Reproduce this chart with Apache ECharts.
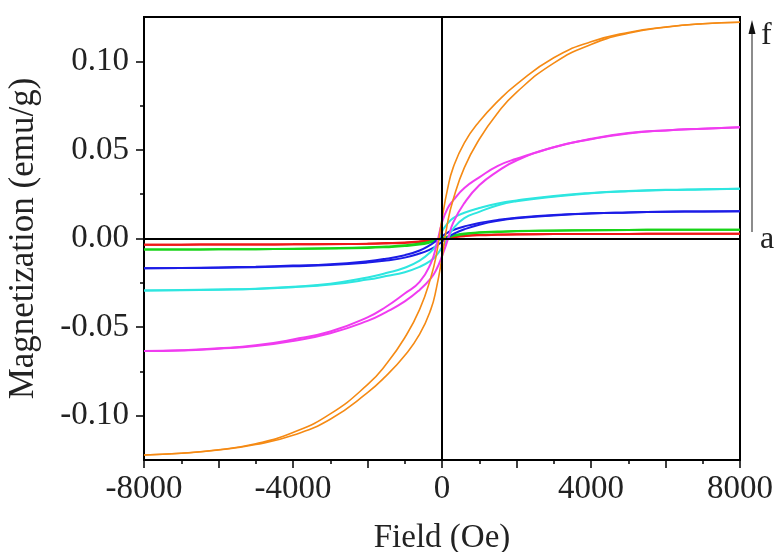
<!DOCTYPE html>
<html>
<head>
<meta charset="utf-8">
<script src="https://cdn.jsdelivr.net/npm/echarts@6.0.0/dist/echarts.min.js"></script>
<style>
    html,body{margin:0;padding:0;background:#fff;}
    #main{width:776px;height:552px;}
</style>
</head>
<body>
<div id="main"></div>
<script>
// field values (Oe), shared by every branch
var field = [-8000,-7000,-6000,-5000,-4000,-3000,-2000,-1500,-1000,-600,-300,-150,0,150,300,600,1000,1500,2000,3000,4000,5000,6000,7000,8000];

// upper = branch coming down from +8000, lower = branch going up from -8000
var aUpper = [-0.0035,-0.0035,-0.0034,-0.0034,-0.0033,-0.0031,-0.0029,-0.0026,-0.0022,-0.0016,-0.0009,-0.0004,0.0002,0.0006,0.0010,0.0016,0.0020,0.0022,0.0024,0.0025,0.0026,0.0026,0.0027,0.0027,0.0027];
var aLower = [-0.0035,-0.0035,-0.0034,-0.0034,-0.0033,-0.0032,-0.0030,-0.0028,-0.0025,-0.0020,-0.0013,-0.0008,-0.0002,0.0003,0.0007,0.0013,0.0018,0.0021,0.0023,0.0025,0.0026,0.0026,0.0027,0.0027,0.0027];
var bUpper = [-0.0062,-0.0062,-0.0061,-0.0060,-0.0058,-0.0055,-0.0050,-0.0045,-0.0038,-0.0028,-0.0016,-0.0007,0.0003,0.0011,0.0018,0.0028,0.0035,0.0039,0.0042,0.0045,0.0047,0.0048,0.0049,0.0049,0.0050];
var bLower = [-0.0062,-0.0062,-0.0061,-0.0060,-0.0059,-0.0057,-0.0053,-0.0049,-0.0043,-0.0034,-0.0022,-0.0013,-0.0003,0.0006,0.0014,0.0024,0.0032,0.0037,0.0041,0.0044,0.0046,0.0048,0.0049,0.0049,0.0050];
var cUpper = [-0.0168,-0.0166,-0.0163,-0.0159,-0.0153,-0.0145,-0.0128,-0.0114,-0.0094,-0.0068,-0.0035,-0.0012,0.0012,0.0033,0.0048,0.0068,0.0088,0.0105,0.0117,0.0133,0.0142,0.0147,0.0151,0.0153,0.0154];
var cLower = [-0.0168,-0.0167,-0.0165,-0.0162,-0.0157,-0.0150,-0.0136,-0.0124,-0.0108,-0.0085,-0.0060,-0.0042,-0.0018,0.0005,0.0025,0.0052,0.0078,0.0100,0.0114,0.0130,0.0141,0.0147,0.0151,0.0153,0.0154];
var dUpper = [-0.0293,-0.0291,-0.0288,-0.0283,-0.0272,-0.0255,-0.0220,-0.0195,-0.0165,-0.0125,-0.0075,-0.0035,0.0040,0.0085,0.0115,0.0145,0.0172,0.0198,0.0215,0.0240,0.0257,0.0268,0.0275,0.0278,0.0281];
var dLower = [-0.0293,-0.0292,-0.0289,-0.0285,-0.0275,-0.0260,-0.0232,-0.0212,-0.0190,-0.0160,-0.0125,-0.0095,-0.0050,-0.0005,0.0055,0.0115,0.0150,0.0188,0.0210,0.0235,0.0255,0.0266,0.0273,0.0277,0.0281];
var eUpper = [-0.0635,-0.0630,-0.0620,-0.0603,-0.0570,-0.0525,-0.0445,-0.0385,-0.0310,-0.0245,-0.0140,-0.0040,0.0090,0.0170,0.0215,0.0285,0.0345,0.0410,0.0450,0.0515,0.0563,0.0595,0.0610,0.0620,0.0628];
var eLower = [-0.0635,-0.0632,-0.0622,-0.0607,-0.0578,-0.0535,-0.0465,-0.0415,-0.0355,-0.0290,-0.0225,-0.0175,-0.0100,-0.0010,0.0090,0.0200,0.0300,0.0380,0.0440,0.0515,0.0560,0.0593,0.0610,0.0620,0.0628];
var fUpper = [-0.1222,-0.1212,-0.1192,-0.1158,-0.1095,-0.0990,-0.0825,-0.0710,-0.0560,-0.0400,-0.0220,-0.0090,0.0110,0.0280,0.0400,0.0540,0.0660,0.0775,0.0870,0.1020,0.1110,0.1163,0.1194,0.1212,0.1220];
var fLower = [-0.1222,-0.1212,-0.1194,-0.1163,-0.1110,-0.1020,-0.0870,-0.0775,-0.0660,-0.0540,-0.0400,-0.0280,-0.0110,0.0090,0.0220,0.0400,0.0560,0.0710,0.0825,0.0990,0.1095,0.1158,0.1192,0.1212,0.1220];

var xLabels = [-8000,-4000,0,4000,8000];
var yLabels = [-0.10,-0.05,0.00,0.05,0.10];
var yMinor = [-0.075,-0.025,0.025,0.075];

var samples = [
    {name:'a', color:'#f01818', upper:aUpper, lower:aLower},
    {name:'b', color:'#18d418', upper:bUpper, lower:bLower},
    {name:'c', color:'#1c1ce6', upper:cUpper, lower:cLower},
    {name:'d', color:'#2ee6e0', upper:dUpper, lower:dLower},
    {name:'e', color:'#f03cf0', upper:eUpper, lower:eLower},
    {name:'f', color:'#f58a14', upper:fUpper, lower:fLower}
];

function pairs(ys){
    var out = [];
    for (var i = 0; i < field.length; i++) out.push([field[i], ys[i]]);
    return out;
}

var series = [];
samples.forEach(function(s){
    [s.upper, s.lower].forEach(function(ys){
        series.push({
            name: s.name,
            type: 'line',
            data: pairs(ys),
            showSymbol: false,
            smooth: 0.5,
            lineStyle: {color: s.color, width: s.name == 'f' ? 1.6 : 2},
            silent: true
        });
    });
});
// zero lines through the origin
series.push({
    type: 'line',
    data: [],
    silent: true,
    markLine: {
        symbol: 'none',
        silent: true,
        label: {show: false},
        lineStyle: {color: '#000', type: 'solid', width: 2},
        data: [{yAxis: 0}, {xAxis: 0}]
    }
});

var font = 'Liberation Serif';
var myChart = echarts.init(document.getElementById('main'));
var option = {
    animation: false,
    backgroundColor: '#fff',
    grid: {left: 144, right: 36, top: 17, bottom: 92, outerBoundsMode: 'none', show: true, borderColor: '#000', borderWidth: 2},
    xAxis: {
        type: 'value',
        min: -8000,
        max: 8000,
        interval: 2000,
        name: 'Field (Oe)',
        nameLocation: 'middle',
        nameGap: 62,
        nameTextStyle: {fontFamily: font, fontSize: 33, color: '#222'},
        axisLine: {onZero: false, lineStyle: {color: '#000', width: 2}},
        axisTick: {length: 8, lineStyle: {color: '#000', width: 1.5}},
        minorTick: {show: true, splitNumber: 2, length: 4, lineStyle: {color: '#000', width: 1.5}},
        splitLine: {show: false},
        axisLabel: {
            customValues: xLabels,
            margin: 13,
            fontFamily: font, fontSize: 33, color: '#222',
            formatter: function(v){ return String(v); }
        }
    },
    yAxis: [{
        type: 'value',
        min: -0.125,
        max: 0.125,
        name: 'Magnetization (emu/g)',
        nameLocation: 'middle',
        nameGap: 103,
        nameTextStyle: {fontFamily: font, fontSize: 35, color: '#222'},
        axisLine: {onZero: false, lineStyle: {color: '#000', width: 2}},
        axisTick: {customValues: yLabels, length: 8, lineStyle: {color: '#000', width: 1.5}},
        splitLine: {show: false},
        axisLabel: {
            customValues: yLabels,
            margin: 15,
            fontFamily: font, fontSize: 33, color: '#222',
            formatter: function(v){ return v.toFixed(2); }
        }
    }, {
        type: 'value',
        position: 'left',
        min: -0.125,
        max: 0.125,
        axisLine: {show: false, onZero: false},
        axisTick: {customValues: yMinor, length: 4, lineStyle: {color: '#000', width: 1.5}},
        axisLabel: {show: false},
        splitLine: {show: false}
    }],
    graphic: [
        {type: 'line', silent: true, shape: {x1: 752, y1: 232, x2: 752, y2: 30}, style: {stroke: '#666', lineWidth: 1.5}},
        {type: 'polygon', silent: true, shape: {points: [[752, 20], [748.5, 34], [755.5, 34]]}, style: {fill: '#111'}},
        {type: 'text', silent: true, left: 761, top: 20, style: {text: 'f', font: '32px "Liberation Serif"', fill: '#222'}},
        {type: 'text', silent: true, left: 760, top: 224, style: {text: 'a', font: '32px "Liberation Serif"', fill: '#222'}}
    ],
    series: series
};
myChart.setOption(option, true);
</script>
</body>
</html>
